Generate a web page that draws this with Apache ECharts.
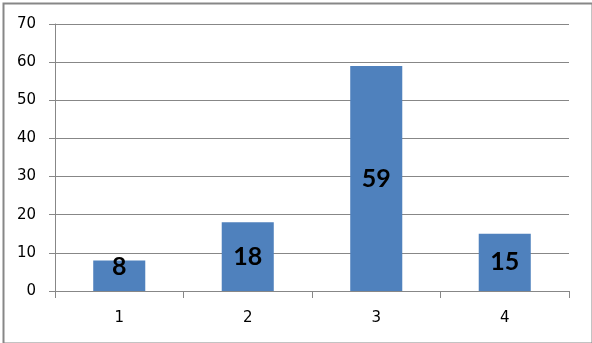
<!DOCTYPE html>
<html><head><meta charset="utf-8">
<script src="https://cdn.jsdelivr.net/npm/echarts@6/dist/echarts.min.js"></script>
<style>html,body{margin:0;padding:0;background:#fff}#c{width:592px;height:343px}</style>
</head><body><div id="c"></div>
<script>
const categories = ['1', '2', '3', '4'];
const values = [8, 18, 59, 15];
const yTicks = [0, 10, 20, 30, 40, 50, 60, 70];

const chart = echarts.init(document.getElementById('c'), null, {renderer: 'canvas'});
chart.setOption({
  animation: false,
  backgroundColor: '#fff',
  graphic: [{
    type: 'rect', left: 1, top: 1, z: 100,
    shape: {width: 589, height: 340},
    style: {fill: 'none', stroke: '#878787', lineWidth: 2}
  }],
  grid: {left: 55, right: 23, top: 24, bottom: 52},
  xAxis: {
    type: 'category', data: categories, boundaryGap: true,
    axisLine: {lineStyle: {color: '#878787', width: 1}},
    axisTick: {show: true, length: 7, alignWithLabel: false, lineStyle: {color: '#878787'}},
    axisLabel: {margin: 20, color: '#000', fontFamily: 'DejaVu Sans', fontSize: 15}
  },
  yAxis: {
    type: 'value', min: yTicks[0], max: yTicks[yTicks.length - 1], interval: 10,
    axisLine: {show: true, lineStyle: {color: '#878787', width: 1}},
    axisTick: {show: true, length: 6, lineStyle: {color: '#878787'}},
    splitLine: {lineStyle: {color: '#878787', width: 1}},
    axisLabel: {margin: 19, color: '#000', fontFamily: 'DejaVu Sans', fontSize: 15}
  },
  series: [{
    type: 'bar', barWidth: '40.5%',
    data: values.map((v, i) => i === 0 ? {value: v, label: {offset: [0, -9]}} : v),
    itemStyle: {color: '#4F81BD'},
    label: {show: true, position: 'inside', color: '#000', fontFamily: 'Lato', fontWeight: 'bold', fontSize: 25}
  }]
});
</script></body></html>
